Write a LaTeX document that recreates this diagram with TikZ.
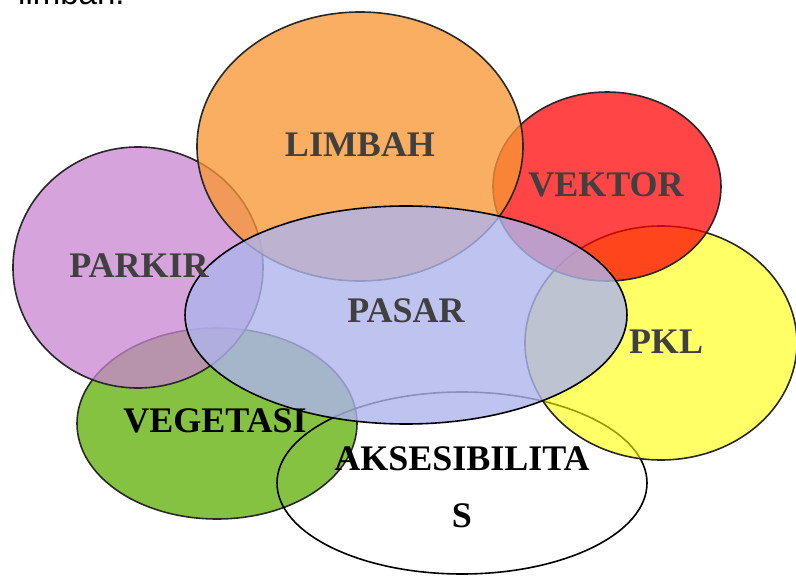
\documentclass[tikz,border=0pt]{standalone}
\usepackage{fontspec}
\setmainfont{Liberation Serif}
\newfontfamily\toptextfont{Liberation Sans}
\usetikzlibrary{shapes.geometric}
\definecolor{cOrange}{RGB}{248,150,50}
\definecolor{cRed}{RGB}{255,0,0}
\definecolor{cYellow}{RGB}{255,255,0}
\definecolor{cPurple}{RGB}{202,132,210}
\definecolor{cGreen}{RGB}{134,194,66}
\definecolor{cPasar}{RGB}{174,180,236}
\definecolor{cEdge}{RGB}{40,40,40}
\definecolor{cLabel}{RGB}{64,64,64}
\tikzset{
  blob/.style={ellipse, draw=cEdge, line width=1.6pt, inner sep=0pt, outer sep=0pt, draw opacity=1},
  lbl/.style={font=\fontsize{36}{57}\selectfont\bfseries, text=cLabel, inner sep=0pt, anchor=base},
  lblblack/.style={lbl, text=black, align=center},
}
\begin{document}
\begin{tikzpicture}[x=1pt,y=-1pt]
\useasboundingbox (0,0) rectangle (796,580);
\clip (0,0) rectangle (796,580);
\fill[white] (0,0) rectangle (796,580);
% ellipses (drawing order matters)
\node[blob, fill=cGreen, minimum width=280pt, minimum height=191pt] (veg) at (217,423.5) {};
\node[blob, draw=black, minimum width=370pt, minimum height=182pt] (aks) at (462,483) {};
\node[blob, fill=cPurple, fill opacity=0.74, minimum width=250pt, minimum height=241pt] (parkir) at (138,267.5) {};
\node[blob, fill=cYellow, fill opacity=0.6, minimum width=272pt, minimum height=234pt] (pkl) at (661,343) {};
\node[blob, fill=cRed, fill opacity=0.73, minimum width=228pt, minimum height=189pt] (vektor) at (607,186.5) {};
\node[blob, fill=cOrange, fill opacity=0.77, minimum width=326pt, minimum height=269pt] (limbah) at (360,146.5) {};
\node[blob, draw=black, fill=cPasar, fill opacity=0.8, minimum width=442pt, minimum height=218pt] (pasar) at (406,315) {};
% labels
\node[lbl] (tlimbah) at (360,157) {LIMBAH};
\node[lbl] (tvektor) at (606,197) {VEKTOR};
\node[lbl] (tparkir) at (139,278) {PARKIR};
\node[lbl] (tpasar) at (406,323) {PASAR};
\node[lbl] (tpkl) at (666,353) {PKL};
\node[lbl, text=black] (tveg) at (215,432) {VEGETASI};
\node[lblblack] (taks) at (462,527) {AKSESIBILITA\\S};
% cut-off caption line at the top
\node[anchor=base west, inner sep=0pt, font=\toptextfont\fontsize{33}{40}\selectfont] (cap) at (18,5) {limbah.};
\end{tikzpicture}
\end{document}
